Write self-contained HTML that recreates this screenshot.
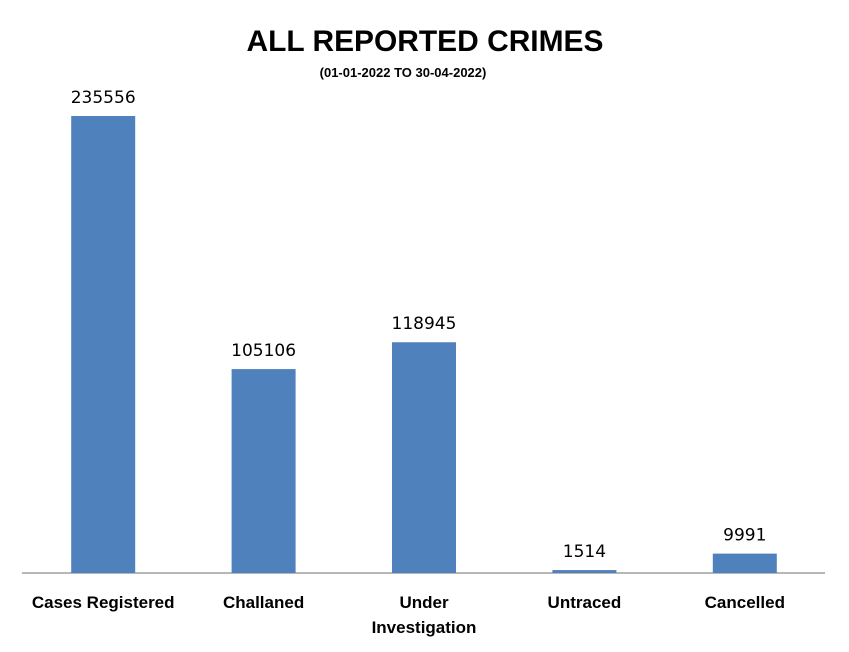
<!DOCTYPE html>
<html><head><meta charset="utf-8"><style>
body{margin:0;background:#fff;}
svg{display:block;font-family:"Liberation Sans",sans-serif;}
</style></head><body>
<svg id="chart" width="849" height="652">
<text x="425" y="51" text-anchor="middle" font-size="30" font-weight="bold" textLength="357" lengthAdjust="spacingAndGlyphs">ALL REPORTED CRIMES</text>
<text x="403" y="77" text-anchor="middle" font-size="13" font-weight="bold">(01-01-2022 TO 30-04-2022)</text>
<line x1="22" y1="573" x2="825" y2="573" stroke="#8c8c8c" stroke-width="1.3"/>
<g id="bars"></g>
</svg>
<script>
const categories=["Cases Registered","Challaned","Under|Investigation","Untraced","Cancelled"];
const values=[235556,105106,118945,1514,9991];
const valueLabels=["235556","105106","118945","1514","9991"];
const baseY=573, topY=116, maxV=235556, left=23, step=160.4, barW=64;
const y=v=>baseY-(baseY-topY)*v/maxV;
const xc=i=>left+step*(i+0.5);
const g=document.getElementById('bars');
const NS='http://www.w3.org/2000/svg';
categories.forEach((c,i)=>{
  const r=document.createElementNS(NS,'rect');
  r.setAttribute('x',xc(i)-barW/2);r.setAttribute('y',y(values[i]));
  r.setAttribute('width',barW);r.setAttribute('height',baseY-y(values[i]));
  r.setAttribute('fill','#4f81bd');
  
  
  g.appendChild(r);
  const t=document.createElementNS(NS,'text');
  t.setAttribute('x',xc(i));t.setAttribute('y',y(values[i])-13);
  t.setAttribute('text-anchor','middle');t.setAttribute('font-size','17');
  t.setAttribute('font-family','"DejaVu Sans",sans-serif');
  t.textContent=valueLabels[i];
  
  
  g.appendChild(t);
  c.split('|').forEach((line,j)=>{
    const l=document.createElementNS(NS,'text');
    l.setAttribute('x',xc(i));l.setAttribute('y',608+j*25);
    l.setAttribute('text-anchor','middle');l.setAttribute('font-size','17');l.setAttribute('font-weight','bold');
    l.textContent=line;
    
    
    g.appendChild(l);
  });
});
</script>
</body></html>
